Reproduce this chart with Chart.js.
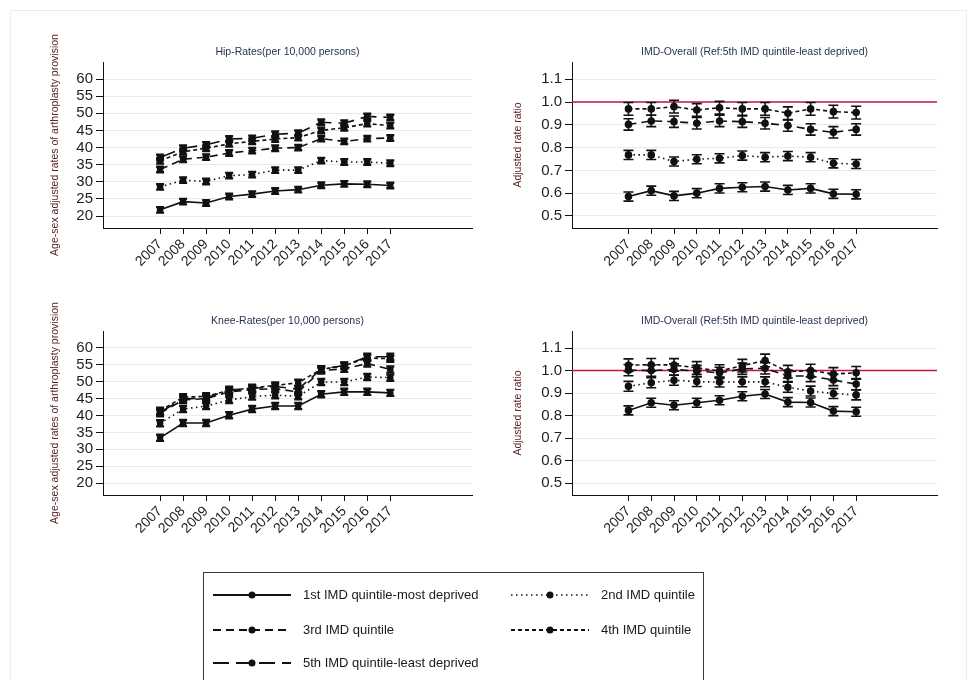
<!DOCTYPE html>
<html>
<head>
<meta charset="utf-8">
<script src="https://cdn.jsdelivr.net/npm/chart.js@4.4.0/dist/chart.umd.min.js"></script>
<style>
    body { margin: 0; background: #fff; font-family: "Liberation Sans", Arial, sans-serif; }
    #page { position: relative; width: 975px; height: 680px; overflow: hidden; }
    .frame { position: absolute; left: 10px; top: 10px; width: 955px; height: 720px; border: 1px solid #ececec; }
    .panel { position: absolute; width: 470px; height: 260px; }
    #legend { position: absolute; left: 203px; top: 572px; border: 1px solid #3a3a3a; }
</style>
</head>
<body>
<div id="page">
    <div class="frame"></div>
    <div class="panel" style="left:20px;top:30px"><canvas id="hipRates"></canvas></div>
    <div class="panel" style="left:490px;top:30px"><canvas id="hipRatios"></canvas></div>
    <div class="panel" style="left:20px;top:300px"><canvas id="kneeRates"></canvas></div>
    <div class="panel" style="left:490px;top:300px"><canvas id="kneeRatios"></canvas></div>
    <canvas id="legend" width="499" height="130"></canvas>
</div>
<script>
const years = [2007, 2008, 2009, 2010, 2011, 2012, 2013, 2014, 2015, 2016, 2017];
const seriesNames = ['1st IMD quintile-most deprived', '2nd IMD quintile', '3rd IMD quintile',
    '4th IMD quintile', '5th IMD quintile-least deprived'];

const rateTicks = [20, 25, 30, 35, 40, 45, 50, 55, 60];
const ratioTicks = [0.5, 0.6, 0.7, 0.8, 0.9, 1.0, 1.1];

// hip rates per 10,000
const hipQ1 = [21.8, 24.2, 23.8, 25.7, 26.4, 27.3, 27.7, 29.0, 29.4, 29.3, 28.9];
const hipQ2 = [28.5, 30.5, 30.1, 31.8, 32.1, 33.4, 33.4, 36.2, 35.8, 35.8, 35.4];
const hipQ3 = [33.6, 36.6, 37.2, 38.4, 39.1, 39.8, 40.0, 42.6, 41.8, 42.6, 42.8];
const hipQ4 = [36.1, 38.8, 39.8, 41.1, 41.8, 42.5, 42.9, 45.0, 45.8, 47.0, 46.4];
const hipQ5 = [37.1, 39.8, 40.8, 42.5, 42.7, 43.9, 44.2, 47.4, 47.1, 49.1, 48.8];
const hipRateCI = [0.8, 0.8, 0.8, 0.8, 0.8];

// hip rate ratios (ref: 5th quintile)
const hipRatioQ1 = [0.585, 0.611, 0.588, 0.600, 0.621, 0.626, 0.629, 0.614, 0.621, 0.597, 0.595];
const hipRatioQ2 = [0.768, 0.768, 0.739, 0.749, 0.753, 0.765, 0.758, 0.763, 0.758, 0.731, 0.728];
const hipRatioQ3 = [0.902, 0.917, 0.914, 0.907, 0.917, 0.914, 0.907, 0.897, 0.880, 0.867, 0.880];
const hipRatioQ4 = [0.970, 0.970, 0.980, 0.965, 0.975, 0.970, 0.970, 0.951, 0.970, 0.958, 0.954];
const hipRatioCI = [0.02, 0.02, 0.025, 0.028];

// knee rates per 10,000
const kneeQ1 = [33.4, 37.8, 37.8, 40.1, 41.9, 42.8, 42.8, 46.3, 47.0, 47.0, 46.7];
const kneeQ2 = [37.7, 41.9, 42.8, 44.6, 45.6, 46.0, 45.7, 49.9, 49.9, 51.4, 51.2];
const kneeQ3 = [40.7, 44.6, 45.0, 47.0, 47.7, 47.9, 47.0, 53.3, 53.8, 55.4, 53.6];
const kneeQ4 = [41.4, 45.4, 45.7, 47.4, 48.2, 48.9, 49.7, 53.7, 54.7, 57.0, 56.8];
const kneeQ5 = [41.0, 44.9, 45.2, 47.6, 48.0, 48.6, 47.8, 53.7, 54.8, 57.4, 57.4];
const kneeRateCI = [0.9, 0.9, 0.9, 0.9, 0.9];

// knee rate ratios (ref: 5th quintile)
const kneeRatioQ1 = [0.823, 0.857, 0.846, 0.857, 0.868, 0.886, 0.896, 0.860, 0.858, 0.820, 0.817];
const kneeRatioQ2 = [0.930, 0.946, 0.957, 0.951, 0.949, 0.950, 0.950, 0.926, 0.909, 0.898, 0.892];
const kneeRatioQ3 = [1.002, 1.000, 1.005, 0.998, 0.990, 1.008, 1.010, 0.976, 0.976, 0.958, 0.940];
const kneeRatioQ4 = [1.024, 1.026, 1.025, 1.012, 0.998, 1.022, 1.045, 0.995, 1.000, 0.985, 0.990];
const kneeRatioCI = [0.02, 0.022, 0.025, 0.028];

// line styles per quintile
const dashes = [[], [1.5, 3.5], [8, 5], [4, 3], [16, 7]];
const FONT = '"Liberation Sans", Arial, sans-serif';

// error bars drawn from each dataset's ci value
const errorBars = {
    id: 'errorBars',
    afterDatasetsDraw(chart, args, opts) {
        const { ctx } = chart;
        const xs = chart.scales.x, ys = chart.scales.y;
        ctx.save();
        ctx.strokeStyle = '#111';
        ctx.lineWidth = opts.width;
        chart.data.datasets.forEach(ds => {
            ds.data.forEach(pt => {
                const x = xs.getPixelForValue(pt.x);
                const lo = ys.getPixelForValue(pt.y - ds.ci);
                const hi = ys.getPixelForValue(pt.y + ds.ci);
                ctx.beginPath();
                ctx.moveTo(x, lo); ctx.lineTo(x, hi);
                ctx.moveTo(x - opts.cap, lo); ctx.lineTo(x + opts.cap, lo);
                ctx.moveTo(x - opts.cap, hi); ctx.lineTo(x + opts.cap, hi);
                ctx.stroke();
            });
        });
        ctx.restore();
    }
};

// titles and the red reference line
const panelText = {
    id: 'panelText',
    beforeDatasetsDraw(chart, args, opts) {
        if (opts.refLine == null) return;
        const { ctx, chartArea } = chart;
        const y = chart.scales.y.getPixelForValue(opts.refLine);
        ctx.save();
        ctx.strokeStyle = '#c8143c';
        ctx.lineWidth = 1.5;
        ctx.beginPath();
        ctx.moveTo(chartArea.left, y);
        ctx.lineTo(chartArea.right, y);
        ctx.stroke();
        ctx.restore();
    },
    afterDraw(chart, args, opts) {
        const { ctx, chartArea } = chart;
        ctx.save();
        ctx.textAlign = 'center';
        ctx.textBaseline = 'middle';
        ctx.font = '10.5px ' + FONT;
        ctx.fillStyle = '#26344f';
        ctx.fillText(opts.title, (chartArea.left + chartArea.right) / 2, chartArea.top - 10);
        ctx.font = '10.5px ' + FONT;
        ctx.fillStyle = '#5a2424';
        ctx.translate(opts.yTitleX, (chartArea.top + chartArea.bottom) / 2);
        ctx.rotate(-Math.PI / 2);
        ctx.fillText(opts.ytitle, 0, 0);
        ctx.restore();
    }
};

function makePanel(id, series, ci, cfg) {
    const datasets = series.map((values, i) => ({
        label: seriesNames[i],
        data: years.map((yr, j) => ({ x: yr, y: values[j] })),
        ci: ci[i],
        borderColor: '#111',
        backgroundColor: '#111',
        borderWidth: 1.6,
        borderDash: dashes[i],
        pointRadius: cfg.pointRadius,
        pointHoverRadius: cfg.pointRadius,
        tension: 0
    }));

    new Chart(document.getElementById(id), {
        type: 'line',
        data: { datasets },
        options: {
            responsive: true,
            maintainAspectRatio: false,
            animation: false,
            layout: { padding: { left: 0, right: cfg.padRight, top: cfg.padTop, bottom: 0 } },
            plugins: {
                legend: { display: false },
                tooltip: { enabled: false },
                errorBars: { width: cfg.barWidth, cap: cfg.cap },
                panelText: { title: cfg.title, ytitle: cfg.ytitle, yTitleX: cfg.yTitleX, refLine: cfg.refLine }
            },
            scales: {
                x: {
                    type: 'linear',
                    min: 2004.52,
                    max: 2020.55,
                    afterBuildTicks: s => { s.ticks = years.map(v => ({ value: v })); },
                    afterFit: s => { s.height = cfg.xHeight; },
                    grid: { drawOnChartArea: false, tickColor: '#111', tickLength: 6 },
                    border: { color: '#111', width: 1 },
                    ticks: {
                        autoSkip: false, minRotation: 45, maxRotation: 45, padding: 2,
                        color: '#1e1e1e', font: { family: FONT, size: 14 },
                        callback: v => String(v)
                    }
                },
                y: {
                    min: cfg.min,
                    max: cfg.max,
                    afterBuildTicks: s => { s.ticks = cfg.ticks.map(v => ({ value: v })); },
                    afterFit: s => { s.width = cfg.yWidth; },
                    grid: { color: '#e4ecf1', lineWidth: 1, tickColor: '#111', tickLength: 7 },
                    border: { color: '#111', width: 1 },
                    ticks: {
                        autoSkip: false, padding: 3, color: '#1e1e1e', font: { family: FONT, size: 15 },
                        callback: cfg.fmt
                    }
                }
            }
        },
        plugins: [errorBars, panelText]
    });
}

const rateOpts = {
    ticks: rateTicks, min: 16.5, max: 65, fmt: v => String(v), pointRadius: 2.5,
    barWidth: 2.4, cap: 4, yWidth: 83, padRight: 18, xHeight: 62,
    ytitle: 'Age-sex adjusted rates of arthroplasty provision', yTitleX: 35
};
const ratioOpts = {
    ticks: ratioTicks, min: 0.447, max: 1.176, fmt: v => v.toFixed(1), pointRadius: 3,
    barWidth: 1.6, cap: 5, yWidth: 82, padRight: 23, xHeight: 62,
    ytitle: 'Adjusted rate ratio', yTitleX: 28, refLine: 1.0
};

makePanel('hipRates', [hipQ1, hipQ2, hipQ3, hipQ4, hipQ5], hipRateCI,
    Object.assign({}, rateOpts, { title: 'Hip-Rates(per 10,000 persons)', padTop: 32 }));
makePanel('hipRatios', [hipRatioQ1, hipRatioQ2, hipRatioQ3, hipRatioQ4], hipRatioCI,
    Object.assign({}, ratioOpts, { title: 'IMD-Overall (Ref:5th IMD quintile-least deprived)', padTop: 32 }));
makePanel('kneeRates', [kneeQ1, kneeQ2, kneeQ3, kneeQ4, kneeQ5], kneeRateCI,
    Object.assign({}, rateOpts, { title: 'Knee-Rates(per 10,000 persons)', padTop: 31, xHeight: 65 }));
makePanel('kneeRatios', [kneeRatioQ1, kneeRatioQ2, kneeRatioQ3, kneeRatioQ4], kneeRatioCI,
    Object.assign({}, ratioOpts, { title: 'IMD-Overall (Ref:5th IMD quintile-least deprived)', padTop: 31, xHeight: 65 }));

// legend box below the panels
function drawLegend() {
    const ctx = document.getElementById('legend').getContext('2d');
    const slots = [[9, 22], [307, 22], [9, 57], [307, 57], [9, 90]];
    ctx.font = '13px ' + FONT;
    ctx.textBaseline = 'middle';
    seriesNames.forEach((name, i) => {
        const [x, y] = slots[i];
        ctx.strokeStyle = '#111';
        ctx.fillStyle = '#111';
        ctx.lineWidth = i === 1 ? 1.4 : 2;
        ctx.setLineDash(dashes[i]);
        ctx.beginPath();
        ctx.moveTo(x, y); ctx.lineTo(x + 78, y);
        ctx.stroke();
        ctx.setLineDash([]);
        ctx.beginPath();
        ctx.arc(x + 39, y, 3.5, 0, Math.PI * 2);
        ctx.fill();
        ctx.fillStyle = '#1a1a1a';
        ctx.fillText(name, x + 90, y);
    });
}
drawLegend();
</script>
</body>
</html>
